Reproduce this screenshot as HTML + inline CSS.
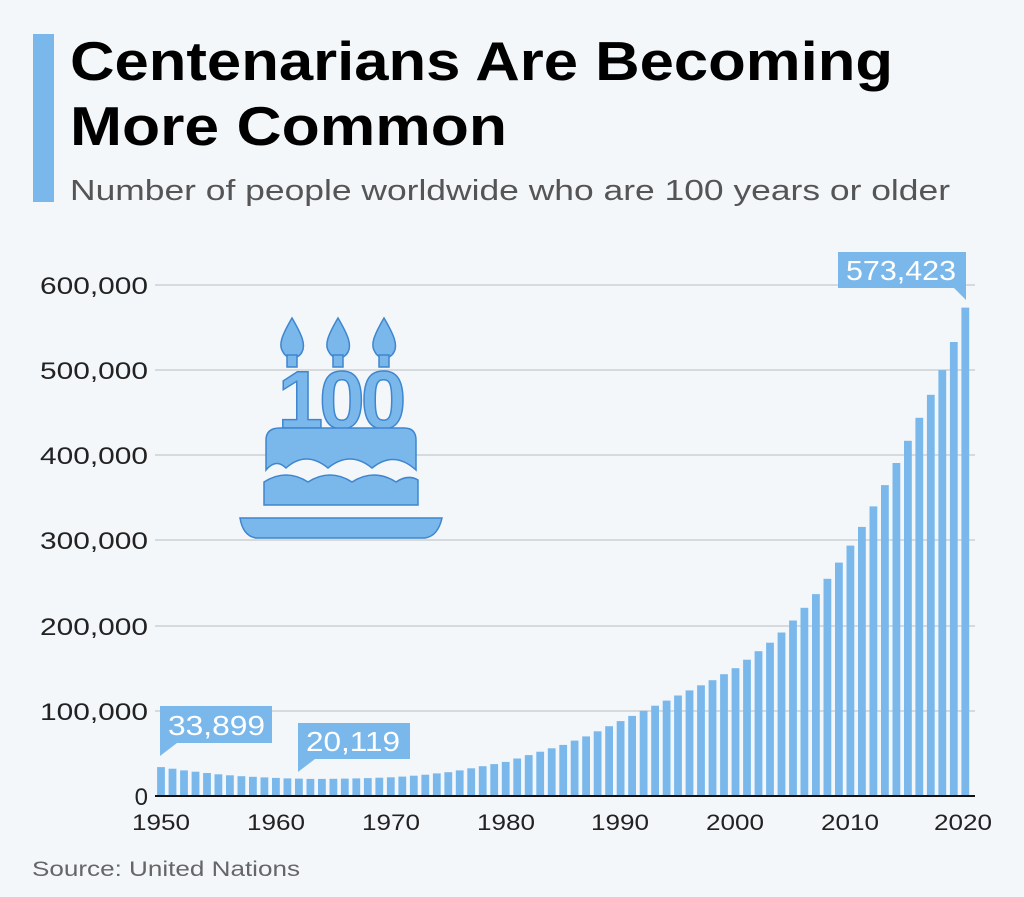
<!DOCTYPE html>
<html><head><meta charset="utf-8"><style>
body{margin:0;background:#f4f7fa;font-family:"Liberation Sans",sans-serif;}
</style></head><body>
<svg width="1024" height="892" viewBox="0 0 1024 892" xmlns="http://www.w3.org/2000/svg" font-family="Liberation Sans, sans-serif">
<rect width="1024" height="892" fill="#f4f7fa"/>
<rect x="33" y="34" width="21" height="168" fill="#7ab8ec"/>
<text x="70" y="80" font-size="55" font-weight="bold" fill="#000" textLength="823" lengthAdjust="spacingAndGlyphs">Centenarians Are Becoming</text>
<text x="70" y="145" font-size="55" font-weight="bold" fill="#000" textLength="437" lengthAdjust="spacingAndGlyphs">More Common</text>
<text x="70" y="200" font-size="29" fill="#555" textLength="880" lengthAdjust="spacingAndGlyphs">Number of people worldwide who are 100 years or older</text>
<g stroke="#c4c8cc" stroke-width="1.2">
<line x1="155" y1="285" x2="975" y2="285"/><line x1="155" y1="370" x2="975" y2="370"/>
<line x1="155" y1="455" x2="975" y2="455"/><line x1="155" y1="540" x2="975" y2="540"/>
<line x1="155" y1="626" x2="975" y2="626"/><line x1="155" y1="711" x2="975" y2="711"/>
</g>
<g font-size="24" fill="#222" text-anchor="end">
<text x="148" y="294" textLength="108" lengthAdjust="spacingAndGlyphs">600,000</text><text x="148" y="379" textLength="108" lengthAdjust="spacingAndGlyphs">500,000</text>
<text x="148" y="464" textLength="108" lengthAdjust="spacingAndGlyphs">400,000</text><text x="148" y="549" textLength="108" lengthAdjust="spacingAndGlyphs">300,000</text>
<text x="148" y="635" textLength="108" lengthAdjust="spacingAndGlyphs">200,000</text><text x="148" y="720" textLength="108" lengthAdjust="spacingAndGlyphs">100,000</text>
<text x="148" y="805">0</text>
</g>
<!-- cake -->
<g fill="#7ab8ec" stroke="#3f86cf" stroke-width="1.5">
<path d="M292 318 C282 335 278 345 283 352 C287 360 298 360 302 352 C306 345 302 335 292 318Z"/>
<path d="M338 318 C328 335 324 345 329 352 C333 360 344 360 348 352 C352 345 348 335 338 318Z"/>
<path d="M384 318 C374 335 370 345 375 352 C379 360 390 360 394 352 C398 345 394 335 384 318Z"/>
<rect x="287" y="355" width="10" height="12"/><rect x="333" y="355" width="10" height="12"/><rect x="379" y="355" width="10" height="12"/>
<text x="340" y="428" font-size="82" font-weight="bold" text-anchor="middle" letter-spacing="-4">100</text>
<path d="M266 470 L266 440 Q266 428 280 428 L404 428 Q416 428 416 440 L416 470 Q394 450 372 468 Q350 450 328 468 Q306 450 286 468 Q276 458 266 470Z"/>
<path d="M264 505 L264 482 Q286 468 308 482 Q330 468 352 482 Q374 468 396 482 Q408 474 418 480 L418 505Z"/>
<path d="M240 518 L442 518 Q438 536 425 538 L256 538 Q243 536 240 518Z"/>
</g>
<g id="bars" fill="#7ab8ec"></g>
<line x1="155" y1="796" x2="975" y2="796" stroke="#111" stroke-width="2"/>
<g font-size="22" fill="#222" text-anchor="middle">
<text x="161" y="830" textLength="58" lengthAdjust="spacingAndGlyphs">1950</text><text x="276" y="830" textLength="58" lengthAdjust="spacingAndGlyphs">1960</text><text x="391" y="830" textLength="58" lengthAdjust="spacingAndGlyphs">1970</text>
<text x="506" y="830" textLength="58" lengthAdjust="spacingAndGlyphs">1980</text><text x="620" y="830" textLength="58" lengthAdjust="spacingAndGlyphs">1990</text><text x="735" y="830" textLength="58" lengthAdjust="spacingAndGlyphs">2000</text>
<text x="850" y="830" textLength="58" lengthAdjust="spacingAndGlyphs">2010</text><text x="963" y="830" textLength="58" lengthAdjust="spacingAndGlyphs">2020</text>
</g>
<!-- callouts -->
<path d="M160 706 L272 706 L272 743 L177 743 L160 756Z" fill="#7ab8ec"/>
<text x="168" y="735" font-size="28" fill="#fff" textLength="97" lengthAdjust="spacingAndGlyphs">33,899</text>
<path d="M298 723 L410 723 L410 759 L315 759 L298 772Z" fill="#7ab8ec"/>
<text x="306" y="751" font-size="28" fill="#fff" textLength="94" lengthAdjust="spacingAndGlyphs">20,119</text>
<path d="M838 252 L966 252 L966 300 L954 288 L838 288Z" fill="#7ab8ec"/>
<text x="846" y="280" font-size="28" fill="#fff" textLength="110" lengthAdjust="spacingAndGlyphs">573,423</text>
<text x="32" y="876" font-size="21" fill="#666" textLength="268" lengthAdjust="spacingAndGlyphs">Source: United Nations</text>
</svg>
<script>
var v=[33.9,32,30,28.5,27,25.5,24.3,23.3,22.5,21.8,21.2,20.7,20.4,20.1,20.1,20.2,20.4,20.7,21.0,21.5,22.0,22.8,23.8,25,26.5,28,30,32.5,35,37.5,40,44,48,52,56,60,65,70,76,82,88,94,100,106,112,118,124,130,136,143,150,160,170,180,192,206,221,237,255,274,294,316,340,365,391,417,444,471,500,533,573.4];
var g=document.getElementById('bars'),s='';
for(var i=0;i<v.length;i++){var c=161+i*11.49,h=v[i]*0.8517;
s+='<rect x="'+(c-3.9).toFixed(1)+'" y="'+(796-h).toFixed(1)+'" width="7.8" height="'+h.toFixed(1)+'"/>';}
g.innerHTML=s;
</script>
</body></html>
